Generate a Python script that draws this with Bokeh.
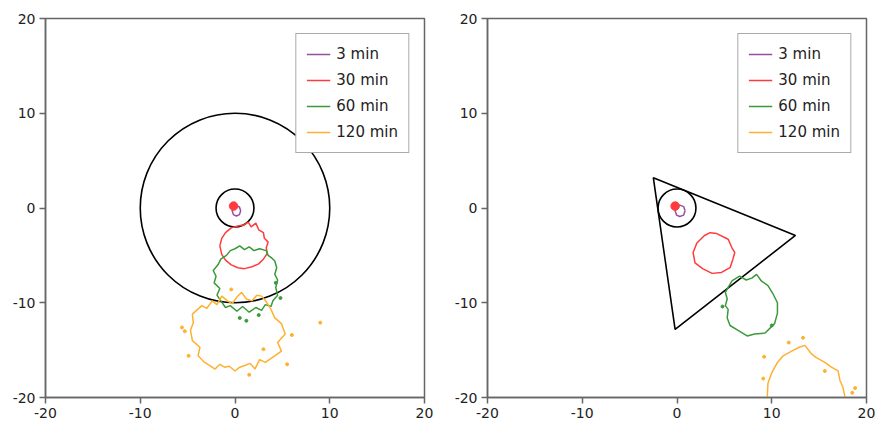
from bokeh.plotting import figure
from bokeh.layouts import row
from bokeh.models import FixedTicker, Range1d
from bokeh.embed import file_html
from bokeh.resources import INLINE

# ---------------- data ----------------
tick_values = [-20, -10, 0, 10, 20]
tick_labels = ["-20", "-10", "0", "10", "20"]
series_names = ["3 min", "30 min", "60 min", "120 min"]
series_colors = ["#984ea3", "#ff3b3b", "#3a9a3a", "#ffb030"]

# Left panel: geometry (circles)
left_circle_x = [0, 0]
left_circle_y = [0, 0]
left_circle_r = [10, 2]

# Left panel: contours
left_3_x = [0.6, 0.47, 0.15, -0.17, -0.3, -0.17, 0.15, 0.47, 0.6]
left_3_y = [-0.3, 0.1, 0.25, 0.1, -0.3, -0.7, -0.85, -0.7, -0.3]
left_dot_x = [-0.15]
left_dot_y = [0.2]

left_30_x = [-1.6, -1.4, -1.0, -0.4, 0.3, 0.9, 1.4, 1.7, 2.2, 2.5, 3.0, 3.1, 3.5, 3.3, 3.4,
             3.0, 2.5, 1.8, 1.0, 0.3, -0.4, -1.0, -1.4, -1.6]
left_30_y = [-4.0, -3.2, -2.6, -2.1, -1.9, -1.8, -1.5, -2.0, -1.6, -2.3, -2.6, -3.2, -3.6, -4.2, -4.8,
             -5.4, -5.9, -6.2, -6.4, -6.3, -6.0, -5.5, -4.9, -4.0]

left_60_x = [-0.9, -0.5, 0.0, 0.5, 1.0, 1.5, 2.0, 2.6, 3.3, 3.5, 3.9, 4.2, 4.4, 4.2, 4.5, 4.3, 4.5,
             4.0, 3.8, 3.2, 2.8, 2.2, 1.5, 0.8, 0.2, -0.5, -1.0, -1.5, -1.9, -1.6, -2.2, -2.0,
             -2.3, -1.8, -1.5, -0.9]
left_60_y = [-5.0, -4.5, -4.3, -4.0, -4.4, -4.1, -4.5, -4.3, -4.5, -5.0, -5.3, -5.6, -6.3, -7.0,
             -7.6, -8.4, -9.2, -9.8, -10.4, -10.2, -10.8, -10.5, -11.0, -10.4, -10.9, -10.3,
             -10.5, -9.8, -9.2, -8.5, -7.9, -7.2, -6.6, -6.0, -5.4, -5.0]
left_60_dots_x = [0.5, 2.5, 4.3, 1.2, 4.8]
left_60_dots_y = [-11.6, -11.3, -7.9, -11.9, -9.5]

left_120_x = [-4.5, -3.5, -3.0, -2.4, -1.9, -1.4, -0.8, -0.3, 0.2, 0.7, 1.2, 1.8, 2.3, 2.8, 3.3,
              3.7, 4.2, 4.9, 5.3, 4.5, 4.9, 4.2, 3.2, 2.6, 2.1, 1.6, 1.1, 0.5, 0.0, -0.6,
              -1.1, -1.6, -2.1, -2.7, -3.2, -3.9, -3.7, -4.5, -4.7, -4.4, -4.5]
left_120_y = [-11.2, -10.3, -10.6, -9.8, -10.2, -9.3, -9.8, -10.1, -9.4, -8.9, -9.6, -9.8, -9.2,
              -9.3, -9.9, -10.5, -11.6, -12.2, -13.3, -14.2, -15.1, -15.6, -16.3, -16.0,
              -17.0, -16.4, -16.6, -16.8, -17.2, -16.7, -16.8, -16.5, -17.0, -16.6, -16.3,
              -15.6, -14.7, -14.0, -12.9, -12.1, -11.2]
left_120_dots_x = [-5.3, -4.9, 6.0, 5.5, 9.0, -5.6, 3.0, -0.4, 1.5]
left_120_dots_y = [-13.0, -15.6, -13.4, -16.5, -12.1, -12.6, -14.9, -8.6, -17.6]

# Right panel: geometry (small circle + triangle)
right_circle_x = [0]
right_circle_y = [0]
right_circle_r = [2]
triangle_x = [-2.5, 12.5, -0.2]
triangle_y = [3.2, -2.9, -12.8]

# Right panel: contours
right_3_x = [0.85, 0.7, 0.3, -0.05, -0.2, -0.05, 0.3, 0.7, 0.85]
right_3_y = [-0.3, 0.15, 0.3, 0.15, -0.3, -0.75, -0.9, -0.75, -0.3]
right_dot_x = [-0.2]
right_dot_y = [0.2]

right_30_x = [4.2, 5.4, 5.8, 6.1, 5.9, 5.6, 4.7, 3.7, 2.7, 1.9, 1.7, 2.1, 2.9, 3.5, 4.2]
right_30_y = [-2.7, -3.3, -4.2, -4.7, -5.4, -6.3, -6.8, -6.9, -6.4, -5.8, -4.7, -3.7, -2.9, -2.6, -2.7]

right_60_x = [5.8, 6.6, 7.3, 7.9, 8.4, 8.9, 9.6, 10.1, 10.6, 10.6, 10.3, 9.3, 8.2, 7.4, 6.4,
              5.6, 5.3, 5.4, 5.1, 5.3, 5.1, 5.8]
right_60_y = [-7.7, -7.2, -7.6, -7.4, -7.0, -7.7, -8.2, -9.0, -10.0, -11.1, -12.2, -13.2, -13.3,
              -13.5, -12.9, -12.4, -11.6, -10.7, -10.3, -9.6, -8.9, -7.7]
right_60_dots_x = [4.8, 10.0]
right_60_dots_y = [-10.4, -12.4]

right_120_x = [9.5, 9.6, 10.0, 10.6, 11.2, 12.1, 12.9, 13.5, 14.2, 14.7, 15.6, 16.3, 17.0, 17.2,
               17.5, 17.7, 17.8]
right_120_y = [-20.5, -18.5, -17.4, -16.3, -15.6, -15.1, -14.7, -14.5, -15.4, -15.8, -16.3, -16.8,
               -17.2, -18.2, -18.9, -19.8, -20.5]
right_120_dots_x = [9.2, 9.1, 11.8, 13.3, 15.6, 18.5, 18.8]
right_120_dots_y = [-15.7, -18.0, -14.2, -13.7, -17.2, -19.5, -19.0]

FONT = "DejaVu Sans"


def base_fig(width, border_right):
    p = figure(width=width, height=425, output_backend="svg", toolbar_location=None,
               x_range=Range1d(-20, 20), y_range=Range1d(-20, 20),
               min_border_left=45, min_border_right=border_right,
               min_border_top=18, min_border_bottom=28)
    p.xgrid.visible = False
    p.ygrid.visible = False
    p.outline_line_color = "#666666"
    p.outline_line_width = 1.5
    for ax in (p.xaxis[0], p.yaxis[0]):
        ax.ticker = FixedTicker(ticks=tick_values)
        ax.major_label_overrides = dict(zip(tick_values, tick_labels))
        ax.minor_tick_line_color = None
        ax.major_tick_in = 0
        ax.major_tick_out = 6
        ax.major_tick_line_color = "#666666"
        ax.major_tick_line_width = 1.5
        ax.axis_line_color = "#666666"
        ax.axis_line_width = 1.5
        ax.major_label_text_font = FONT
        ax.major_label_text_font_size = "14px"
        ax.major_label_text_color = "#222222"
        ax.major_label_standoff = 4
    return p


def style_legend(p):
    lg = p.legend[0]
    lg.location = "top_right"
    lg.margin = 15
    lg.padding = 10
    lg.spacing = 6
    lg.glyph_width = 24
    lg.glyph_height = 20
    lg.label_height = 20
    lg.label_standoff = 6
    lg.label_text_font = FONT
    lg.label_text_font_size = "15px"
    lg.label_text_color = "#222222"
    lg.border_line_color = "#555555"
    lg.border_line_width = 1
    lg.background_fill_alpha = 1.0


# ---------------- left panel ----------------
p1 = base_fig(442, 18)
p1.circle(left_circle_x, left_circle_y, radius=left_circle_r, fill_color=None,
          line_color="black", line_width=1.6)
p1.line(left_3_x, left_3_y, line_color=series_colors[0], line_width=1.5, legend_label=series_names[0])
p1.line(left_30_x, left_30_y, line_color=series_colors[1], line_width=1.5, legend_label=series_names[1])
p1.line(left_60_x, left_60_y, line_color=series_colors[2], line_width=1.5, legend_label=series_names[2])
p1.line(left_120_x, left_120_y, line_color=series_colors[3], line_width=1.5, legend_label=series_names[3])
p1.circle(left_dot_x, left_dot_y, radius=0.45, fill_color=series_colors[1], line_color=series_colors[1])
p1.scatter(left_60_dots_x, left_60_dots_y, size=3, color=series_colors[2])
p1.scatter(left_120_dots_x, left_120_dots_y, size=3, color=series_colors[3])
style_legend(p1)

# ---------------- right panel ----------------
p2 = base_fig(435, 11)
p2.circle(right_circle_x, right_circle_y, radius=right_circle_r, fill_color=None,
          line_color="black", line_width=1.6)
p2.patch(triangle_x, triangle_y, fill_color=None, line_color="black", line_width=1.6)
p2.line(right_3_x, right_3_y, line_color=series_colors[0], line_width=1.5, legend_label=series_names[0])
p2.line(right_30_x, right_30_y, line_color=series_colors[1], line_width=1.5, legend_label=series_names[1])
p2.line(right_60_x, right_60_y, line_color=series_colors[2], line_width=1.5, legend_label=series_names[2])
p2.line(right_120_x, right_120_y, line_color=series_colors[3], line_width=1.5, legend_label=series_names[3])
p2.circle(right_dot_x, right_dot_y, radius=0.45, fill_color=series_colors[1], line_color=series_colors[1])
p2.scatter(right_60_dots_x, right_60_dots_y, size=3, color=series_colors[2])
p2.scatter(right_120_dots_x, right_120_dots_y, size=3, color=series_colors[3])
style_legend(p2)

layout = row(p1, p2)
open("out.html", "w").write(file_html(layout, INLINE))
